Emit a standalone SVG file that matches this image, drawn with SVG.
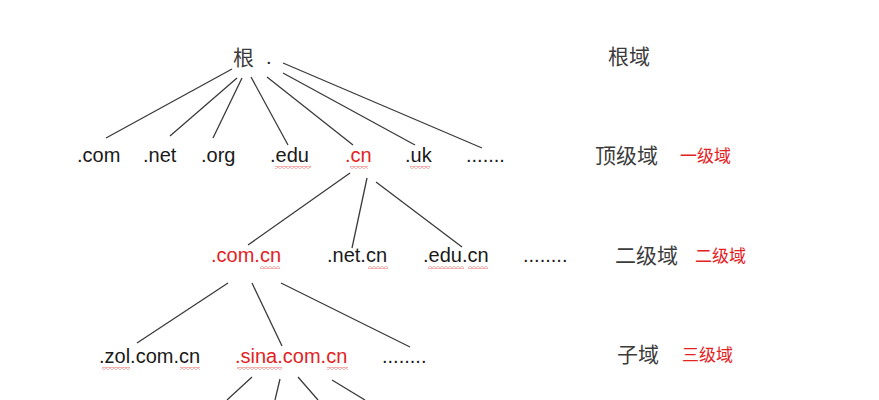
<svg xmlns="http://www.w3.org/2000/svg" width="879" height="400" viewBox="0 0 879 400">
<style>
.t{font-family:"Liberation Sans",Arial,sans-serif;font-size:20px;fill:#1a1a1a}
.r{fill:#e3231f}
.c{font-family:"Noto Sans CJK SC",sans-serif;font-size:21px;fill:#3c3c3c}
.cr{font-family:"Noto Sans CJK SC",sans-serif;font-size:17px;fill:#e3231f}
.ln line{stroke:#3a3a3a;stroke-width:1.3}
</style>
<defs>
<pattern id="sq" patternUnits="userSpaceOnUse" width="4" height="3">
<path d="M-1 1.5 L0 0.5 L2 2.5 L4 0.5 L5 1.5" fill="none" stroke="#e8504c" stroke-width="0.9"/>
</pattern>
</defs>
<rect width="879" height="400" fill="#ffffff"/>
<g id="connectors" class="ln">
<line x1="232" y1="69" x2="106" y2="138"/>
<line x1="237" y1="78" x2="170" y2="136"/>
<line x1="242" y1="78" x2="213" y2="138"/>
<line x1="251" y1="77" x2="288" y2="145"/>
<line x1="267" y1="77" x2="353" y2="145"/>
<line x1="283" y1="73" x2="415" y2="145"/>
<line x1="283" y1="63" x2="482" y2="148"/>
<line x1="350" y1="173" x2="248" y2="245"/>
<line x1="367" y1="178" x2="352" y2="248"/>
<line x1="376" y1="182" x2="462" y2="247"/>
<line x1="228" y1="283" x2="137" y2="343"/>
<line x1="252" y1="283" x2="282" y2="346"/>
<line x1="281" y1="283" x2="410" y2="347"/>
<line x1="252" y1="377" x2="227" y2="400"/>
<line x1="280" y1="379" x2="275" y2="400"/>
<line x1="298" y1="377" x2="318" y2="400"/>
<line x1="332" y1="380" x2="365" y2="400"/>
</g>
<g id="root"><text class="c" x="233" y="65">根<tspan class="t" x="266" y="64">.</tspan></text></g>
<g id="n-com"><text class="t" x="77" y="162">.com</text></g>
<g id="n-net"><text class="t" x="143" y="162">.net</text></g>
<g id="n-org"><text class="t" x="201" y="162">.org</text></g>
<g id="n-edu"><text class="t" x="270" y="162">.edu</text><rect x="275" y="166" width="36" height="3" fill="url(#sq)"/></g>
<g id="n-cn"><text class="t r" x="345" y="162">.cn</text><rect x="350" y="166" width="18" height="3" fill="url(#sq)"/></g>
<g id="n-uk"><text class="t" x="405" y="162">.uk</text><rect x="410" y="166" width="20" height="3" fill="url(#sq)"/></g>
<g id="n-more1"><text class="t" x="466" y="162">.......</text></g>
<g id="n-comcn"><text class="t r" x="211" y="262">.com.cn</text><rect x="260" y="266" width="20" height="3" fill="url(#sq)"/></g>
<g id="n-netcn"><text class="t" x="327" y="262">.net.cn</text><rect x="368" y="266" width="20" height="3" fill="url(#sq)"/></g>
<g id="n-educn"><text class="t" x="423" y="262">.edu.cn</text><rect x="428" y="266" width="36" height="3" fill="url(#sq)"/><rect x="468" y="266" width="20" height="3" fill="url(#sq)"/></g>
<g id="n-more2"><text class="t" x="523" y="262">........</text></g>
<g id="n-zol"><text class="t" x="99" y="363">.zol.com.cn</text><rect x="102" y="367" width="28" height="3" fill="url(#sq)"/><rect x="180" y="367" width="20" height="3" fill="url(#sq)"/></g>
<g id="n-sina"><text class="t r" x="235" y="363">.sina.com.cn</text><rect x="237" y="367" width="45" height="3" fill="url(#sq)"/><rect x="327" y="367" width="21" height="3" fill="url(#sq)"/></g>
<g id="n-more3"><text class="t" x="382" y="363">........</text></g>
<g id="labels">
<text class="c" x="608" y="64">根域</text>
<text class="c" x="595" y="163">顶级域</text>
<text class="cr" x="680" y="162">一级域</text>
<text class="c" x="615" y="263">二级域</text>
<text class="cr" x="695" y="262">二级域</text>
<text class="c" x="617" y="362">子域</text>
<text class="cr" x="682" y="361">三级域</text>
</g>
</svg>
